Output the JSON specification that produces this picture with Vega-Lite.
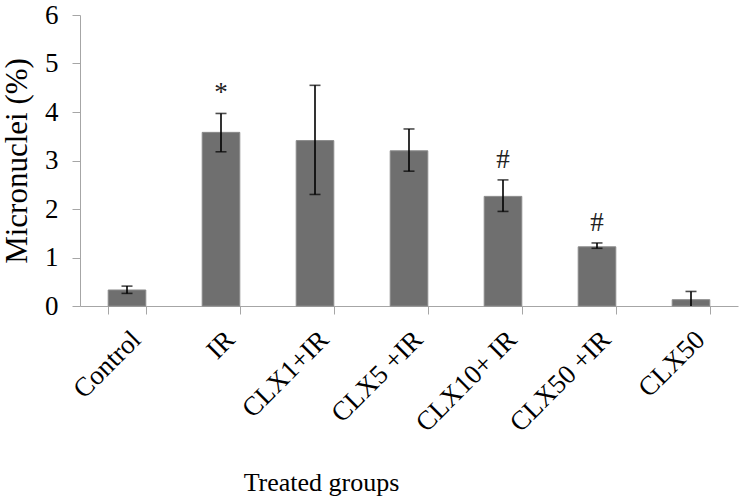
{
  "$schema": "https://vega.github.io/schema/vega-lite/v6.json",
  "width": 658,
  "height": 291,
  "autosize": {"type": "none"},
  "padding": {"left": 80, "top": 15, "right": 5, "bottom": 193},
  "background": "white",
  "config": {
    "view": {"stroke": null},
    "font": "Liberation Serif",
    "axis": {
      "labelFont": "Liberation Serif",
      "titleFont": "Liberation Serif",
      "labelColor": "black",
      "titleColor": "black",
      "titleFontWeight": "normal",
      "domainColor": "#a6a6a6",
      "tickColor": "#a6a6a6",
      "grid": false
    }
  },
  "data": {
    "values": [
      {"group": "Control", "mean": 0.33, "lo": 0.26, "hi": 0.41, "mark": ""},
      {"group": "IR", "mean": 3.58, "lo": 3.18, "hi": 3.97, "mark": "*"},
      {"group": "CLX1+IR", "mean": 3.41, "lo": 2.30, "hi": 4.55, "mark": ""},
      {"group": "CLX5 +IR", "mean": 3.20, "lo": 2.78, "hi": 3.65, "mark": ""},
      {"group": "CLX10+ IR", "mean": 2.26, "lo": 1.95, "hi": 2.60, "mark": "#"},
      {"group": "CLX50 +IR", "mean": 1.22, "lo": 1.19, "hi": 1.30, "mark": "#"},
      {"group": "CLX50", "mean": 0.13, "lo": 0.0, "hi": 0.30, "mark": ""}
    ]
  },
  "encoding": {
    "x": {
      "field": "group",
      "type": "nominal",
      "sort": null,
      "scale": {"paddingInner": 0.6, "paddingOuter": 0.3},
      "axis": {
        "title": "Treated groups",
        "labelAngle": -45,
        "labelFontSize": 27,
        "labelPadding": 12,
        "tickBand": "extent",
        "tickSize": 8,
        "titleFontSize": 26,
        "titleX": 241,
        "titleY": 176,
        "titleAlign": "center",
        "titleBaseline": "middle"
      }
    }
  },
  "layer": [
    {
      "mark": {"type": "bar", "color": "#6f6f6f", "stroke": "#8a8a8a", "strokeWidth": 1},
      "encoding": {
        "y": {
          "field": "mean",
          "type": "quantitative",
          "scale": {"domain": [0, 6]},
          "axis": {
            "title": "Micronuclei (%)",
            "values": [0, 1, 2, 3, 4, 5, 6],
            "labelFontSize": 27,
            "titleFontSize": 31,
            "tickSize": 8,
            "labelPadding": 14,
            "titlePadding": 11
          }
        }
      }
    },
    {
      "mark": {"type": "rule", "color": "black", "strokeWidth": 1.6},
      "encoding": {
        "y": {"field": "lo", "type": "quantitative"},
        "y2": {"field": "hi"}
      }
    },
    {
      "mark": {"type": "tick", "color": "black", "thickness": 1.6, "size": 11},
      "encoding": {"y": {"field": "hi", "type": "quantitative"}}
    },
    {
      "transform": [{"filter": "datum.lo > 0"}],
      "mark": {"type": "tick", "color": "black", "thickness": 1.6, "size": 11},
      "encoding": {"y": {"field": "lo", "type": "quantitative"}}
    },
    {
      "mark": {"type": "text", "fontSize": 27, "font": "Liberation Serif", "baseline": "middle", "dy": -20, "color": "#222222"},
      "encoding": {
        "y": {"field": "hi", "type": "quantitative"},
        "text": {"field": "mark"}
      }
    }
  ]
}
